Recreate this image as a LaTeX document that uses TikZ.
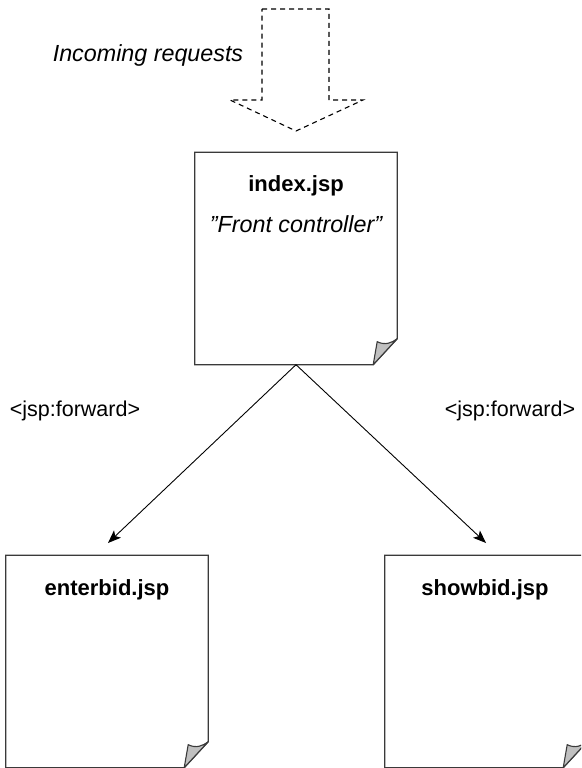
\documentclass[tikz,border=0pt]{standalone}
\usepackage{fontspec}
\setmainfont{Liberation Sans}
\usetikzlibrary{arrows.meta}
\definecolor{flapgray}{HTML}{C0C0C0}
\definecolor{edgegray}{HTML}{3A3A3A}
\tikzset{
  pagebox/.style={draw=none, minimum width=202pt, minimum height=212pt, inner sep=0pt},
  pageline/.style={draw=edgegray, line width=1.3pt, line join=miter},
  flap/.style={draw=edgegray, fill=flapgray, line width=1.1pt, line join=round},
  title/.style={font=\fontsize{22}{26}\selectfont\bfseries, inner sep=0pt},
  itext/.style={font=\fontsize{23.3}{26}\selectfont\itshape, inner sep=0pt},
  rtext/.style={font=\fontsize{21.5}{26}\selectfont, inner sep=0pt},
  fwd/.style={draw=black, line width=0.9pt, -{Stealth[length=13pt,width=10pt,inset=3pt]}},
  bigarrow/.style={draw=black, line width=1.1pt, dash pattern=on 5pt off 4pt}
}
\newcommand{\docpage}[1]{%
  \path[pageline] (#1.north west) -- (#1.north east) -- ([yshift=26pt]#1.south east)
    -- ([xshift=-24pt]#1.south east) -- (#1.south west) -- cycle;
  \path[flap] ([xshift=-24pt]#1.south east) -- ([xshift=-20pt,yshift=23pt]#1.south east)
    .. controls ([xshift=-12pt,yshift=19pt]#1.south east) and ([xshift=-5pt,yshift=22pt]#1.south east)
    .. ([yshift=26pt]#1.south east) -- cycle;
}
\newcommand{\sq}{\symbol{34}}
\begin{document}
\begin{tikzpicture}[x=1pt,y=-1pt]
\clip (0,0) rectangle (581,768);
\fill[white] (0,0) rectangle (581,768);

% incoming arrow
\path[bigarrow] (262,9) -- (329,9) -- (329,100) -- (363,100) -- (296,131) -- (230,100) -- (262,100) -- cycle;
\node[itext] (inc) at (148,55) {Incoming requests};

% pages
\node[pagebox] (index) at (296,258.5) {};
\node[pagebox] (enter) at (107,661.5) {};
\node[pagebox] (show) at (486,661.5) {};
\docpage{index}
\docpage{enter}
\docpage{show}

\node[title] (indext) at (296,186) {index.jsp};
\node[itext] (fc) at (296,224) {\sq Front controller\sq};
\node[title] (entert) at (107,590) {enterbid.jsp};
\node[title] (showt) at (485,590) {showbid.jsp};

% connectors
\coordinate (lt) at (108,543);
\coordinate (rt) at (486,543);
\draw[fwd] (index.south) -- (lt);
\draw[fwd] (index.south) -- (rt);

\node[rtext] (lf) at (75,411) {<jsp:forward>};
\node[rtext] (rf) at (510,411) {<jsp:forward>};
\end{tikzpicture}
\end{document}
